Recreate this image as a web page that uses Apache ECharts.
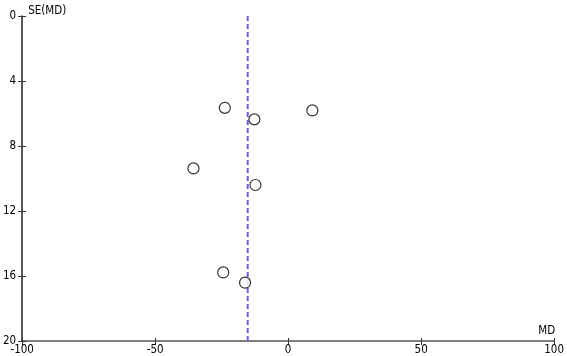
<!DOCTYPE html>
<html><head><meta charset="utf-8">
<script src="https://cdn.jsdelivr.net/npm/echarts@6/dist/echarts.min.js"></script>
<style>html,body{margin:0;padding:0;background:#fff}#c{width:567px;height:356px}</style>
</head><body><div id="c"></div>
<script>
const studyMD = [-23.8, -12.7, 9.1, -35.6, -12.3, -24.4, -16.2];
const studySE = [5.65, 6.36, 5.81, 9.38, 10.4, 15.78, 16.41];
const pooledMD = -15.2;
const xTicks = [-100, -50, 0, 50, 100];
const yTicks = [0, 4, 8, 12, 16, 20];

const chart = echarts.init(document.getElementById('c'));
const font = '"DejaVu Sans Condensed", "DejaVu Sans", sans-serif';
const xBase = {
  type: 'value', min: xTicks[0], max: xTicks[xTicks.length-1], interval: xTicks[1] - xTicks[0],
  splitLine: {show: false}
};
const yBase = {
  type: 'value', inverse: true, min: yTicks[0], max: yTicks[yTicks.length-1], interval: yTicks[1] - yTicks[0],
  splitLine: {show: false}
};
chart.setOption({
  animation: false,
  grid: {left: 20, right: 11, top: 16, bottom: 13, containLabel: false},
  xAxis: [
    Object.assign({}, xBase, {
      position: 'bottom',
      name: 'MD', nameLocation: 'end', nameGap: 0,
      nameTextStyle: {fontFamily: font, fontSize: 11.5, color: '#000', align: 'right', verticalAlign: 'bottom', padding: [0, -1, 4, 0]},
      axisLine: {onZero: false, lineStyle: {color: '#555', width: 1.5}},
      axisTick: {length: 4, lineStyle: {color: '#333', width: 1}},
      axisLabel: {fontFamily: font, fontSize: 11.5, color: '#000', margin: 3}
    }),
    Object.assign({}, xBase, {
      position: 'bottom',
      axisLine: {show: false, onZero: false},
      axisTick: {inside: true, length: 3, lineStyle: {color: '#333', width: 1}},
      axisLabel: {show: false}
    })
  ],
  yAxis: [
    Object.assign({}, yBase, {
      position: 'left',
      name: 'SE(MD)', nameLocation: 'start', nameGap: 0,
      nameTextStyle: {fontFamily: font, fontSize: 11.5, color: '#000', align: 'left', verticalAlign: 'bottom', padding: [0, 0, -1, 6]},
      axisLine: {onZero: false, lineStyle: {color: '#222', width: 1.5}},
      axisTick: {length: 4, lineStyle: {color: '#333', width: 1}},
      axisLabel: {fontFamily: font, fontSize: 11.5, color: '#000', margin: 6}
    }),
    Object.assign({}, yBase, {
      position: 'left',
      axisLine: {show: false, onZero: false},
      axisTick: {inside: true, length: 4, lineStyle: {color: '#333', width: 1}},
      axisLabel: {show: false}
    })
  ],
  series: [
    {
      type: 'line', data: [[pooledMD, yTicks[0]], [pooledMD, yTicks[yTicks.length-1]]],
      symbol: 'none', lineStyle: {color: '#6262e2', width: 2, type: [5, 3]}, z: 1
    },
    {
      type: 'scatter', data: studyMD.map((x, i) => [x, studySE[i]]),
      symbol: 'circle', symbolSize: 11,
      itemStyle: {color: '#fff', borderColor: '#000', borderWidth: 1.2}, z: 3
    }
  ]
});
</script></body></html>
